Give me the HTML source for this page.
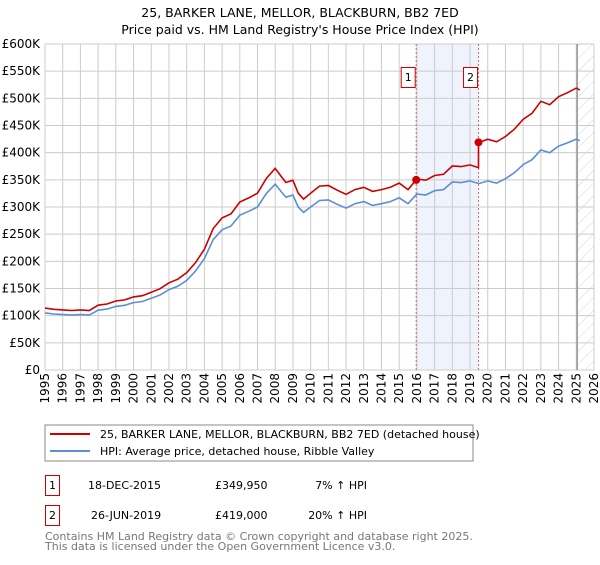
<!DOCTYPE html>
<html><head><meta charset="utf-8"><style>
body{margin:0;background:#fff;font-family:"Liberation Sans","DejaVu Sans",sans-serif}
svg text{font-family:"DejaVu Sans","Liberation Sans",sans-serif}
</style></head><body>
<svg id="c" width="600" height="560" xmlns="http://www.w3.org/2000/svg">
<defs><pattern id="hatch" width="9" height="9" patternUnits="userSpaceOnUse" patternTransform="rotate(45)"><line x1="0" y1="0" x2="0" y2="9" stroke="#d4d4d4" stroke-width="1"/></pattern></defs>
<text x="300" y="17" text-anchor="middle" font-size="12.5">25, BARKER LANE, MELLOR, BLACKBURN, BB2 7ED</text>
<text x="300" y="34" text-anchor="middle" font-size="12.5">Price paid vs. HM Land Registry's House Price Index (HPI)</text>
<g id="grid"></g><g id="marks"></g><g id="axes"></g>
<rect x="45" y="425" width="428" height="36" fill="#fff" stroke="#888"/>
<line x1="50" y1="434" x2="90" y2="434" stroke="#cc0000" stroke-width="2"/>
<text x="100" y="438" font-size="11">25, BARKER LANE, MELLOR, BLACKBURN, BB2 7ED (detached house)</text>
<line x1="50" y1="451" x2="90" y2="451" stroke="#5b8fd4" stroke-width="2"/>
<text x="100" y="455" font-size="11">HPI: Average price, detached house, Ribble Valley</text>
<g font-size="11">
<rect x="45.5" y="475.5" width="14" height="20" fill="#fff" stroke="#cc0000"/>
<text x="52.5" y="489" text-anchor="middle">1</text>
<text x="88" y="489">18-DEC-2015</text>
<text x="215" y="489">£349,950</text>
<text x="367" y="489" text-anchor="end">7% ↑ HPI</text>
<rect x="45.5" y="505.5" width="14" height="20" fill="#fff" stroke="#cc0000"/>
<text x="52.5" y="519" text-anchor="middle">2</text>
<text x="91" y="519">26-JUN-2019</text>
<text x="215" y="519">£419,000</text>
<text x="367" y="519" text-anchor="end">20% ↑ HPI</text>
</g>
<text x="45" y="540" font-size="11" fill="#777">Contains HM Land Registry data © Crown copyright and database right 2025.</text>
<text x="45" y="550" font-size="11" fill="#777">This data is licensed under the Open Government Licence v3.0.</text>
</svg>
<script>
const years=[1995,1995.5,1996,1996.5,1997,1997.5,1998,1998.5,1999,1999.5,2000,2000.5,2001,2001.5,2002,2002.5,2003,2003.5,2004,2004.5,2005,2005.5,2006,2006.5,2007,2007.5,2008,2008.3,2008.6,2009,2009.3,2009.6,2010,2010.5,2011,2011.5,2012,2012.5,2013,2013.5,2014,2014.5,2015,2015.5,2016,2016.5,2017,2017.5,2018,2018.5,2019,2019.5,2020,2020.5,2021,2021.5,2022,2022.5,2023,2023.5,2024,2024.5,2025,2025.2];
const hpi=[105,103,102,101,102,101,110,112,117,119,124,126,132,138,148,154,165,182,205,240,258,265,285,292,300,325,342,330,318,322,300,290,300,312,313,305,298,306,310,303,306,310,317,306,324,322,330,332,346,345,348,343,348,344,352,363,378,387,405,400,412,418,425,422];
const saleDates=[2015.96,2019.48];
const salePrices=[349.95,419];
const yTicks=[0,50,100,150,200,250,300,350,400,450,500,550,600];
const xTicks=[1995,1996,1997,1998,1999,2000,2001,2002,2003,2004,2005,2006,2007,2008,2009,2010,2011,2012,2013,2014,2015,2016,2017,2018,2019,2020,2021,2022,2023,2024,2025,2026];
const X0=45,X1=594,Y0=370,Y1=44;
const xs=v=>X0+(v-1995)/(2026-1995)*(X1-X0);
const ys=v=>Y0-(v/600)*(Y0-Y1);
const NS='http://www.w3.org/2000/svg';
function mk(t,a,p){const e=document.createElementNS(NS,t);for(const k in a)e.setAttribute(k,a[k]);p.appendChild(e);return e;}
const grid=document.getElementById('grid'),marks=document.getElementById('marks'),axes=document.getElementById('axes');
const sh=mk('rect',{x:xs(saleDates[0]),y:Y1,width:xs(saleDates[1])-xs(saleDates[0]),height:Y0-Y1,fill:'#eef3fc'},grid);


yTicks.forEach(v=>{
 const l=mk('line',{x1:X0,x2:X1,y1:ys(v),y2:ys(v),stroke:'#ccc'},grid);
 
 
 const t=mk('text',{x:40,y:ys(v)+4,'text-anchor':'end','font-size':'12'},axes);
 t.textContent=v===0?'£0':'£'+v+'K';
 
 
});
xTicks.forEach(v=>{
 const l=mk('line',{x1:xs(v),x2:xs(v),y1:Y1,y2:Y0,stroke:'#ccc'},grid);
 
 
 const t=mk('text',{x:0,y:0,'text-anchor':'end','font-size':'12',transform:`translate(${xs(v)+4},373) rotate(-90)`},axes);
 t.textContent=v;
 
 
});
const hz=mk('rect',{x:xs(2025.05),y:Y1,width:X1-xs(2025.05),height:Y0-Y1,fill:'url(#hatch)'},grid);


const hl=mk('line',{x1:xs(2025.05),x2:xs(2025.05),y1:Y1,y2:Y0,stroke:'#999','stroke-width':1.5},grid);


function hAt(t){for(let i=0;i<years.length-1;i++){if(t<=years[i+1]){const f=(t-years[i])/(years[i+1]-years[i]);return hpi[i]+f*(hpi[i+1]-hpi[i]);}}return hpi[hpi.length-1];}
const r1=salePrices[0]/hAt(saleDates[0]),r2=salePrices[1]/hAt(saleDates[1]);
const hp=years.map((y,i)=>`${i?'L':'M'}${xs(y).toFixed(1)},${ys(hpi[i]).toFixed(1)}`).join('');
const pts=[];years.forEach((y,i)=>{if(y<saleDates[1])pts.push([y,hpi[i]*r1]);});
pts.push([saleDates[1],hAt(saleDates[1])*r1]);pts.push([saleDates[1],salePrices[1]]);
years.forEach((y,i)=>{if(y>saleDates[1])pts.push([y,hpi[i]*r2]);});
const rp=pts.map((p,i)=>`${i?'L':'M'}${xs(p[0]).toFixed(1)},${ys(p[1]).toFixed(1)}`).join('');
saleDates.forEach((d,i)=>{
 const l=mk('line',{x1:xs(d),x2:xs(d),y1:Y1,y2:Y0,stroke:'#e06666','stroke-dasharray':'2,2'},marks);
 
 
 const b=mk('rect',{x:xs(d)-15,y:67.5,width:14,height:20,fill:'#fff',stroke:'#cc0000'},marks);
 
 
 const t=mk('text',{x:xs(d)-8,y:81,'text-anchor':'middle','font-size':'11'},marks);
 t.textContent=String(i+1);
 
 
});
const ph=mk('path',{d:hp,fill:'none',stroke:'#5b8fd4','stroke-width':1.6},marks);


const pr=mk('path',{d:rp,fill:'none',stroke:'#cc0000','stroke-width':1.6},marks);


saleDates.forEach((d,i)=>{
 const c=mk('circle',{cx:xs(d),cy:ys(salePrices[i]),r:4,fill:'#cc0000'},marks);
 
 
});
</script>
</body></html>
